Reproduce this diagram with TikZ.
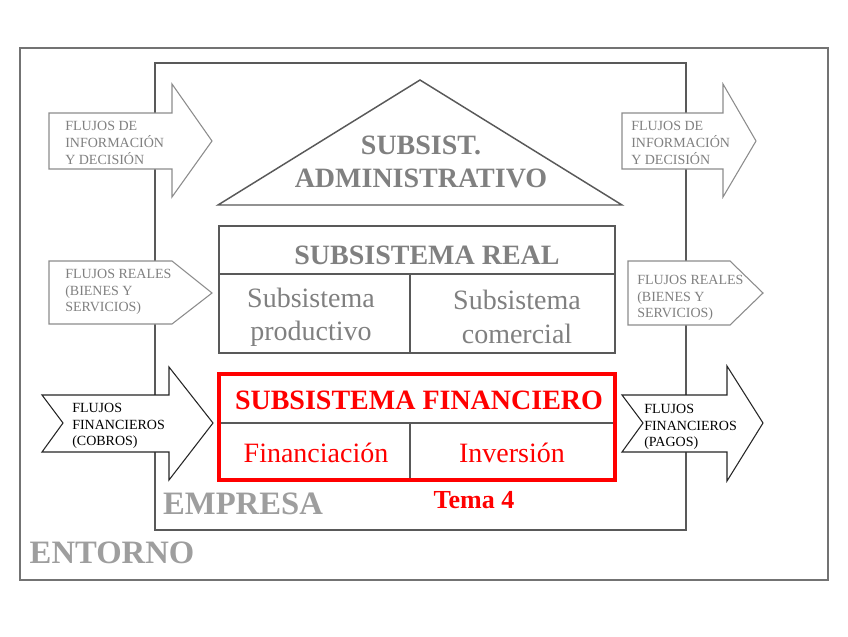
\documentclass[tikz,border=0pt]{standalone}
\usepackage{fontspec}
\setmainfont{Liberation Serif}
\begin{document}
\begin{tikzpicture}[x=0.75pt,y=-0.75pt,
  frameline/.style={draw=black!65,line width=1.1pt},
  grayarrow/.style={draw=black!45,fill=white,line width=0.8pt},
  blackarrow/.style={draw=black!85,fill=white,line width=0.8pt},
  arrowtxt/.style={font=\fontsize{10.5}{12.6}\selectfont,align=left,anchor=west,inner sep=0pt},
  bigbold/.style={font=\fontsize{21}{24}\selectfont\bfseries},
  bigreg/.style={font=\fontsize{21}{25}\selectfont},
  labelbig/.style={font=\fontsize{24.5}{28}\selectfont\bfseries,text=black!38}]
\useasboundingbox[fill=white] (0,0) rectangle (848,636);
% entorno and empresa
\draw[draw=black!55,line width=0.8pt] (20,48) rectangle (828,580);
\draw[frameline] (155,63) rectangle (686,530);
% administrative triangle
\draw[frameline] (420,80) -- (622,205) -- (218,205) -- cycle;
\node[bigbold,text=black!50,align=center] (adm) at (421,162) {SUBSIST.\\[1pt]ADMINISTRATIVO};
% real subsystem
\draw[frameline] (219,226) rectangle (615,353);
\draw[frameline] (219,274) -- (615,274);
\draw[frameline] (410,274) -- (410,353);
\node[bigbold,text=black!50] (real) at (427,255) {SUBSISTEMA REAL};
\node[bigreg,text=black!50,align=center] (prod) at (311,317) {Subsistema\\productivo};
\node[bigreg,text=black!50,align=center] (com) at (517,317) {Subsistema\\comercial};
% financial subsystem
\draw[frameline] (219,374) rectangle (615,423);
\draw[frameline] (410,423) -- (410,480);
\draw[draw=red,line width=2.6pt] (219,374) rectangle (615,480);
\node[bigbold,text=red] (fin) at (419,400) {SUBSISTEMA FINANCIERO};
\node[bigreg,text=red] (fcn) at (316,453) {Financiación};
\node[bigreg,text=red] (inv) at (512,453) {Inversión};
\node[font=\fontsize{19.5}{22}\selectfont\bfseries,text=red] (tema) at (474,500) {Tema 4};
\node[labelbig] (emp) at (243,504) {EMPRESA};
\node[labelbig] (ent) at (112,553) {ENTORNO};
% left arrows
\draw[grayarrow] (49,113) -- (172,113) -- (172,84) -- (212,141) -- (172,197) -- (172,169) -- (49,169) -- cycle;
\node[arrowtxt,text=black!50] (li) at (65,143) {FLUJOS DE\\INFORMACIÓN\\Y DECISIÓN};
\draw[grayarrow] (49,261) -- (172,261) -- (212,293) -- (172,324) -- (49,324) -- cycle;
\node[arrowtxt,text=black!50] (lr) at (65,292) {FLUJOS REALES\\(BIENES Y\\SERVICIOS)};
\draw[blackarrow] (42,395) -- (169,395) -- (169,367) -- (213,423) -- (169,480) -- (169,452) -- (42,452) -- (63,423) -- cycle;
\node[arrowtxt,text=black] (lf) at (72,426) {FLUJOS\\FINANCIEROS\\(COBROS)};
% right arrows
\draw[grayarrow] (622,113) -- (723,113) -- (723,84) -- (756,141) -- (723,197) -- (723,169) -- (622,169) -- cycle;
\node[arrowtxt,text=black!50] (ri) at (631,143) {FLUJOS DE\\INFORMACIÓN\\Y DECISIÓN};
\draw[grayarrow] (628,261) -- (730,261) -- (763,293) -- (730,325) -- (628,325) -- cycle;
\node[arrowtxt,text=black!50] (rr) at (637,298) {FLUJOS REALES\\(BIENES Y\\SERVICIOS)};
\draw[blackarrow] (622,395) -- (727,395) -- (727,366) -- (763,423) -- (727,481) -- (727,452) -- (622,452) -- (643,423) -- cycle;
\node[arrowtxt,text=black] (rf) at (644,427) {FLUJOS\\FINANCIEROS\\(PAGOS)};
\end{tikzpicture}
\end{document}
